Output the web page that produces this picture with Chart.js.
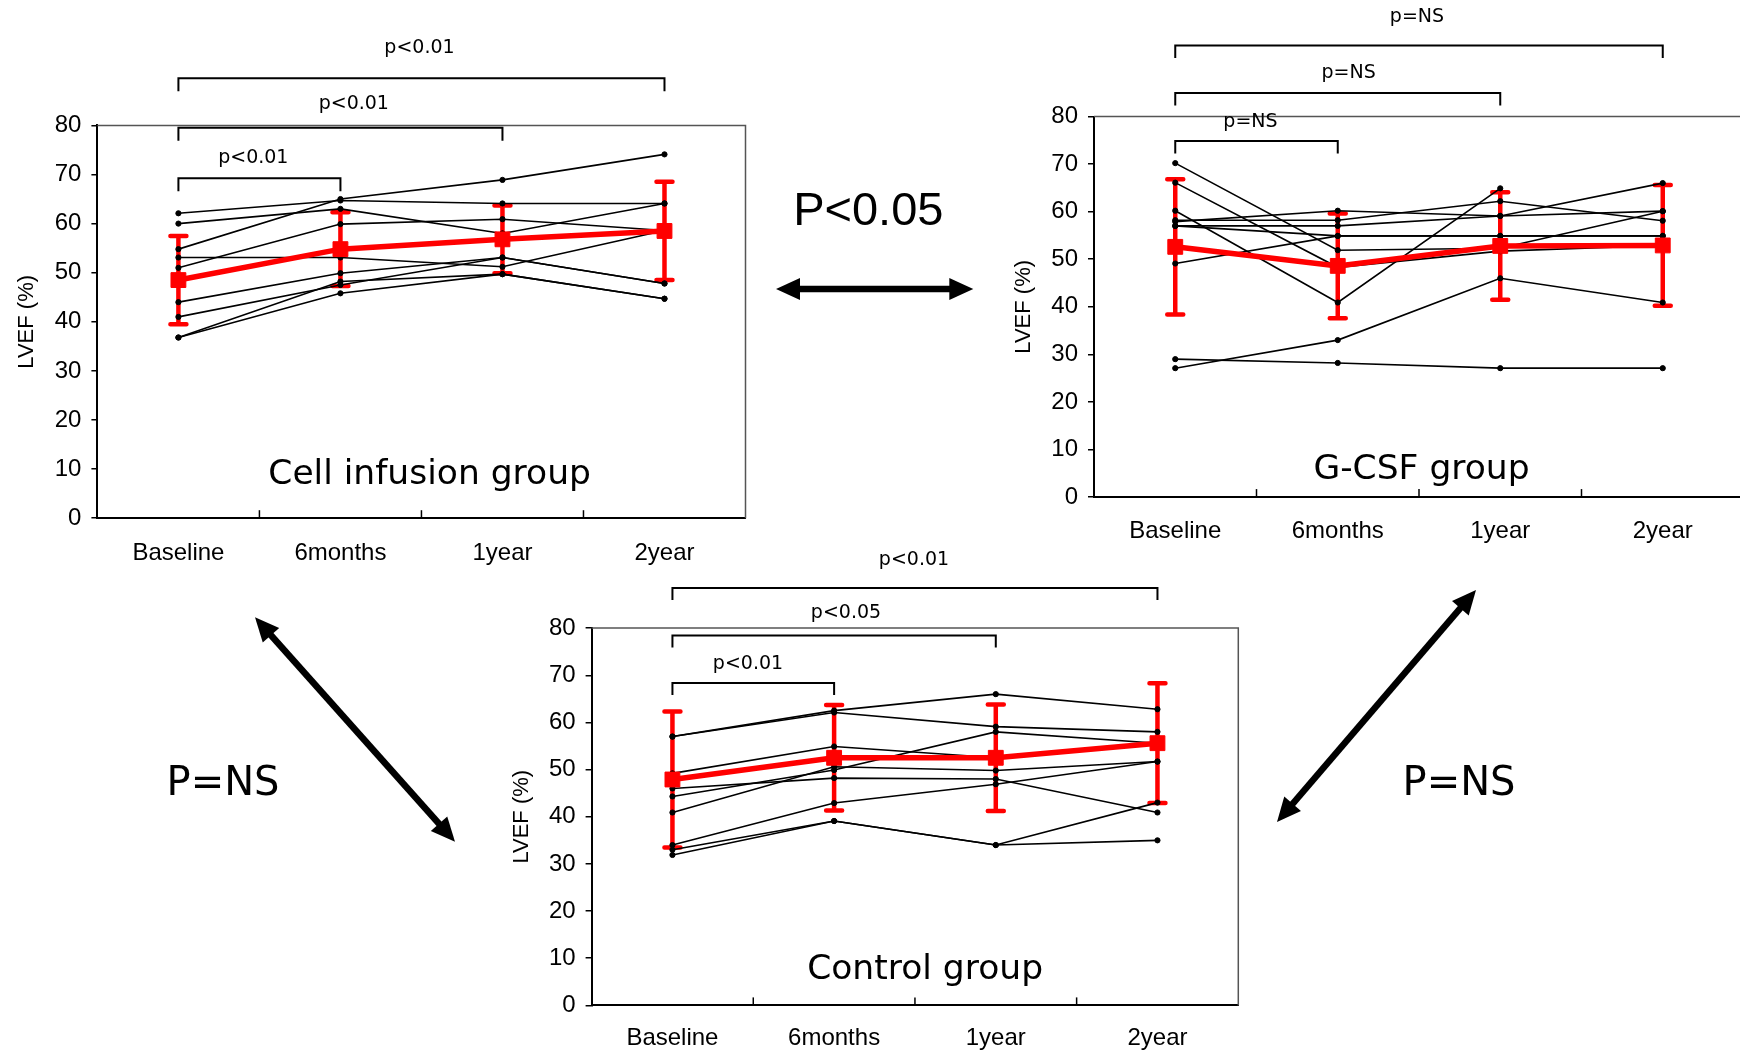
<!DOCTYPE html>
<html>
<head>
<meta charset="utf-8">
<script src="https://cdn.jsdelivr.net/npm/chart.js@4.4.1/dist/chart.umd.min.js"></script>
<style>
  html, body { margin: 0; padding: 0; background: #fff; width: 1740px; height: 1050px; overflow: hidden; }
  canvas { position: absolute; }
</style>
</head>
<body>
<canvas id="cell" width="760" height="580" style="left:0px;top:0px"></canvas>
<canvas id="gcsf" width="770" height="560" style="left:990px;top:0px"></canvas>
<canvas id="ctrl" width="760" height="510" style="left:500px;top:540px"></canvas>
<canvas id="overlay" width="1740" height="1050" style="left:0px;top:0px"></canvas>
<script>
// ---- data ----
const categories = ['Baseline', '6months', '1year', '2year'];
const yMin = 0, yMax = 80, yStep = 10;

// Cell infusion group: one row per patient
const cellPatients = [
  [62.1, 64.7, 64.1, 64.1],
  [60.0, 63.0, 58.0, 64.1],
  [54.8, 65.0, 68.9, 74.1],
  [51.0, 59.9, 60.9, 58.6],
  [53.1, 53.1, 51.2, 58.6],
  [44.0, 49.9, 53.1, 47.8],
  [41.0, 47.5, 53.1, 47.8],
  [36.8, 48.2, 49.7, 44.7],
  [36.8, 45.8, 49.7, 44.7]
];
const cellMean = [48.5, 54.8, 56.8, 58.5];
const cellSD = [9.0, 7.5, 6.9, 10.0];
const cellP = ['p<0.01', 'p<0.01', 'p<0.01'];

// G-CSF group
const gcsfPatients = [
  [70.2, 51.9, 52.3, 60.1],
  [66.1, 48.3, 51.7, 52.9],
  [60.2, 40.9, 64.9, null],
  [57.9, 60.2, 59.1, 66.0],
  [57.0, 57.0, 59.1, 60.1],
  [58.2, 58.2, 62.2, 58.1],
  [57.0, 54.9, 54.9, 54.9],
  [49.1, 54.9, 54.9, 54.9],
  [29.0, 28.2, 27.1, 27.1],
  [27.1, 33.0, 46.0, 40.9]
];
const gcsfMean = [52.6, 48.6, 52.8, 52.9];
const gcsfSD = [14.2, 11.0, 11.3, 12.7];
const gcsfP = ['p=NS', 'p=NS', 'p=NS'];

// Control group
const ctrlPatients = [
  [57.0, 62.5, 66.0, 62.8],
  [57.0, 62.1, 59.1, 58.0],
  [49.2, 54.9, 52.5, 55.6],
  [44.3, 49.9, 58.0, 55.6],
  [46.0, 48.2, 48.0, 40.9],
  [40.9, 50.6, 49.8, 51.7],
  [34.0, 42.9, 46.9, 51.7],
  [33.0, 39.1, 34.0, 43.0],
  [31.9, 39.1, 34.0, 35.0]
];
const ctrlMean = [47.9, 52.5, 52.5, 55.6];
const ctrlSD = [14.4, 11.2, 11.3, 12.7];
const ctrlP = ['p<0.01', 'p<0.05', 'p<0.01'];

// every panel compares baseline with each later visit
const comparePairs = [[0, 1], [0, 2], [0, 3]];
const groupNames = ['Cell infusion group', 'G-CSF group', 'Control group'];
const betweenGroups = ['P<0.05', 'P=NS', 'P=NS'];

const RED = '#ff0000';
Chart.defaults.font.family = 'Liberation Sans';

function makePanel(cfg) {
  const datasets = [{
    data: cfg.mean, borderColor: RED, backgroundColor: RED, borderWidth: 5.5,
    pointStyle: 'rect', pointRadius: 10.5, pointBorderWidth: 1, order: 0
  }];
  cfg.patients.forEach(p => datasets.push({
    data: p, borderColor: '#000', backgroundColor: '#000', borderWidth: 1.6,
    pointRadius: 2.6, pointBorderWidth: 1, order: 1
  }));

  const decor = {
    id: 'decor',
    // mean +/- SD bars, under the lines
    beforeDatasetsDraw(chart) {
      const ctx = chart.ctx, x = chart.scales.x, y = chart.scales.y;
      ctx.save();
      ctx.strokeStyle = RED;
      ctx.lineWidth = 4.5;
      ctx.lineCap = 'round';
      cfg.mean.forEach((m, i) => {
        const px = x.getPixelForValue(i);
        const top = y.getPixelForValue(m + cfg.sd[i]);
        const bot = y.getPixelForValue(m - cfg.sd[i]);
        ctx.beginPath();
        ctx.moveTo(px, top); ctx.lineTo(px, bot);
        ctx.moveTo(px - 8, top); ctx.lineTo(px + 8, top);
        ctx.moveTo(px - 8, bot); ctx.lineTo(px + 8, bot);
        ctx.stroke();
      });
      ctx.restore();
    },
    afterDraw(chart) {
      const ctx = chart.ctx, x = chart.scales.x, a = chart.chartArea;
      ctx.save();
      // thin frame top / right
      ctx.strokeStyle = '#555';
      ctx.lineWidth = 1.5;
      ctx.beginPath();
      ctx.moveTo(a.left, a.top); ctx.lineTo(a.right, a.top); ctx.lineTo(a.right, a.bottom);
      ctx.stroke();
      // small ticks between categories, pointing up
      ctx.strokeStyle = '#000';
      for (let i = 1; i < categories.length; i++) {
        const px = (x.getPixelForValue(i - 1) + x.getPixelForValue(i)) / 2;
        ctx.beginPath(); ctx.moveTo(px, a.bottom); ctx.lineTo(px, a.bottom - 8); ctx.stroke();
      }
      // significance brackets
      ctx.lineWidth = 2;
      ctx.fillStyle = '#000';
      ctx.font = '19px "DejaVu Sans"';
      ctx.textAlign = 'center';
      ctx.textBaseline = 'middle';
      comparePairs.forEach((pr, k) => {
        const x1 = x.getPixelForValue(pr[0]), x2 = x.getPixelForValue(pr[1]);
        const by = cfg.bracketY[k];
        ctx.beginPath();
        ctx.moveTo(x1, by + cfg.drop); ctx.lineTo(x1, by); ctx.lineTo(x2, by); ctx.lineTo(x2, by + cfg.drop);
        ctx.stroke();
        ctx.fillText(cfg.pLabels[k], cfg.textX[k], cfg.textY[k]);
      });
      // group name
      ctx.font = '34.5px "DejaVu Sans"';
      ctx.textBaseline = 'alphabetic';
      ctx.fillText(cfg.name, cfg.nameX, cfg.nameBase);
      ctx.restore();
    }
  };

  new Chart(document.getElementById(cfg.id), {
    type: 'line',
    data: { labels: categories, datasets },
    plugins: [decor],
    options: {
      responsive: false,
      animation: false,
      events: [],
      layout: { padding: { left: 0, top: cfg.top, right: cfg.right, bottom: 0 } },
      elements: { line: { tension: 0 } },
      plugins: { legend: { display: false }, tooltip: { enabled: false } },
      scales: {
        x: {
          offset: true,
          grid: { display: false, drawTicks: false },
          border: { display: true, color: '#000', width: 2 },
          ticks: { color: '#000', padding: cfg.xPad, maxRotation: 0, autoSkip: false,
                   font: { family: 'Liberation Sans', size: 24 } },
          afterFit: s => { s.height = cfg.xH; }
        },
        y: {
          min: yMin, max: yMax,
          ticks: { stepSize: yStep, color: '#000', padding: 10,
                   font: { family: 'Liberation Sans', size: 24 } },
          grid: { drawOnChartArea: false, color: '#000', lineWidth: 1.5, tickLength: 6 },
          border: { display: true, color: '#000', width: 2 },
          title: { display: true, text: 'LVEF (%)', color: '#000',
                   font: { family: 'Liberation Sans', size: 22 },
                   padding: { top: cfg.yW - 83.2, bottom: 0 } },
          afterFit: s => { s.width = cfg.yW; }
        }
      }
    }
  });
}

makePanel({
  id: 'cell', patients: cellPatients, mean: cellMean, sd: cellSD, pLabels: cellP, name: groupNames[0],
  yW: 97.4, top: 125.4, right: 14.5, xH: 61.8, xPad: 21.2,
  bracketY: [178.3, 127.8, 78.2], drop: 13, textX: [253.3, 353.8, 419.5], textY: [157.7, 104, 47.9],
  nameX: 429.6, nameBase: 484
});
makePanel({
  id: 'gcsf', patients: gcsfPatients, mean: gcsfMean, sd: gcsfSD, pLabels: gcsfP, name: groupNames[1],
  yW: 104, top: 116.5, right: 16, xH: 62.9, xPad: 20.1,
  bracketY: [141.1, 93, 45.5], drop: 12.5, textX: [260.5, 358.6, 427], textY: [122.5, 72.6, 17.1],
  nameX: 431.5, nameBase: 478.5
});
makePanel({
  id: 'ctrl', patients: ctrlPatients, mean: ctrlMean, sd: ctrlSD, pLabels: ctrlP, name: groupNames[2],
  yW: 91.6, top: 88.1, right: 21.7, xH: 44.6, xPad: 19,
  bracketY: [142.9, 95.4, 48], drop: 12, textX: [248, 346, 414], textY: [123.8, 72.7, 20.3],
  nameX: 425.1, nameBase: 439.4
});

// ---- arrows and between-group p values ----
const ov = document.getElementById('overlay').getContext('2d');
function arrow(x1, y1, x2, y2) {
  const ang = Math.atan2(y2 - y1, x2 - x1), len = Math.hypot(x2 - x1, y2 - y1);
  const L = 24, W = 11;
  ov.save();
  ov.translate(x1, y1);
  ov.rotate(ang);
  ov.fillStyle = '#000';
  ov.strokeStyle = '#000';
  ov.lineWidth = 6.5;
  ov.beginPath(); ov.moveTo(L - 2, 0); ov.lineTo(len - L + 2, 0); ov.stroke();
  ov.beginPath(); ov.moveTo(0, 0); ov.lineTo(L, -W); ov.lineTo(L, W); ov.closePath(); ov.fill();
  ov.beginPath(); ov.moveTo(len, 0); ov.lineTo(len - L, -W); ov.lineTo(len - L, W); ov.closePath(); ov.fill();
  ov.restore();
}
arrow(776, 289, 973.3, 289);
arrow(255, 617.3, 455, 841.7);
arrow(1476, 590, 1277, 822);

ov.fillStyle = '#000';
ov.textAlign = 'center';
ov.textBaseline = 'alphabetic';
ov.font = '47px "Liberation Sans"';
ov.fillText(betweenGroups[0], 868.3, 225.1);
ov.font = '40px "DejaVu Sans"';
ov.fillText(betweenGroups[1], 223, 794.6);
ov.fillText(betweenGroups[2], 1459, 794.6);
</script>
</body>
</html>
